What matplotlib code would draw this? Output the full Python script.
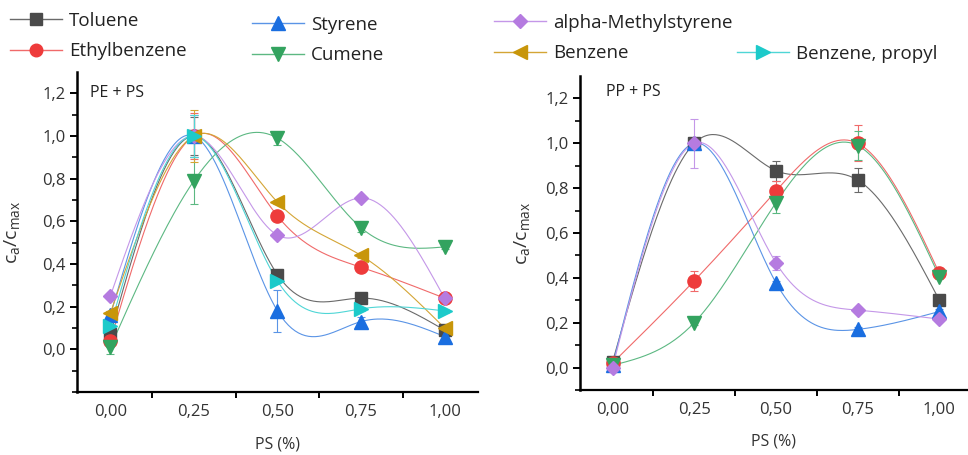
import numpy as np
import matplotlib
matplotlib.use('Agg')
import matplotlib.pyplot as plt
from matplotlib.lines import Line2D
from matplotlib.ticker import MultipleLocator, FixedLocator, FuncFormatter

plt.rcParams['font.family'] = ['Open Sans', 'DejaVu Sans']

ps = [0.0, 0.25, 0.50, 0.75, 1.00]

names = ['Toluene', 'Ethylbenzene', 'Styrene', 'Cumene',
         'alpha-Methylstyrene', 'Benzene', 'Benzene, propyl']

# PE + PS
pe_toluene = [0.07, 1.00, 0.35, 0.24, 0.09]
pe_ethylbenzene = [0.04, 1.00, 0.625, 0.385, 0.24]
pe_styrene = [0.16, 1.00, 0.18, 0.13, 0.06]
pe_cumene = [0.01, 0.79, 0.99, 0.57, 0.48]
pe_ams = [0.25, 1.00, 0.535, 0.71, 0.24]
pe_benzene = [0.17, 1.00, 0.69, 0.44, 0.10]
pe_propyl = [0.11, 1.00, 0.32, 0.19, 0.18]

pe_err_toluene = [0.01, 0.09, 0.02, 0.02, 0.01]
pe_err_ethylbenzene = [0.03, 0.11, 0.02, 0.02, 0.01]
pe_err_styrene = [0.02, 0.10, 0.10, 0.02, 0.01]
pe_err_cumene = [0.03, 0.11, 0.03, 0.02, 0.01]
pe_err_ams = [0.01, 0.10, 0.01, 0.01, 0.01]
pe_err_benzene = [0.01, 0.12, 0.01, 0.01, 0.01]
pe_err_propyl = [0.01, 0.10, 0.01, 0.01, 0.01]

# PP + PS
pp_toluene = [0.025, 1.00, 0.878, 0.836, 0.30]
pp_ethylbenzene = [0.02, 0.387, 0.787, 1.00, 0.42]
pp_styrene = [0.01, 1.00, 0.378, 0.17, 0.25]
pp_cumene = [0.01, 0.20, 0.735, 0.99, 0.405]
pp_ams = [0.0, 1.00, 0.467, 0.256, 0.216]

pp_err_toluene = [0.01, 0.02, 0.045, 0.055, 0.01]
pp_err_ethylbenzene = [0.01, 0.045, 0.045, 0.08, 0.01]
pp_err_styrene = [0.01, 0.02, 0.01, 0.01, 0.01]
pp_err_cumene = [0.01, 0.01, 0.045, 0.065, 0.01]
pp_err_ams = [0.01, 0.11, 0.03, 0.01, 0.01]

yticks = [0.0, 0.2, 0.4, 0.6, 0.8, 1.0, 1.2]
yminor = [-0.1, 0.1, 0.3, 0.5, 0.7, 0.9, 1.1]

markers = ['s', 'o', '^', 'v', 'D', '<', '>']
mcolors = ['#4a4a4a', '#ee3b3b', '#1a6ee0', '#33a35f', '#b57be0', '#c8960a', '#1ccaca']
lcolors = ['#6a6a6a', '#f06a6a', '#5a94e6', '#5cb882', '#c497e8', '#d4a535', '#4fd6d6']
msizes = [8.5, 9.5, 10, 10, 7.5, 10, 10]


def natural_spline(x, y, num=200):
    x = np.asarray(x, float)
    y = np.asarray(y, float)
    n = len(x)
    h = np.diff(x)
    A = np.zeros((n, n))
    r = np.zeros(n)
    A[0, 0] = A[-1, -1] = 1
    for i in range(1, n - 1):
        A[i, i - 1] = h[i - 1]
        A[i, i] = 2 * (h[i - 1] + h[i])
        A[i, i + 1] = h[i]
        r[i] = 6 * ((y[i + 1] - y[i]) / h[i] - (y[i] - y[i - 1]) / h[i - 1])
    M = np.linalg.solve(A, r)
    xs = np.linspace(x[0], x[-1], num)
    k = np.clip(np.searchsorted(x, xs) - 1, 0, n - 2)
    t0 = x[k + 1] - xs
    t1 = xs - x[k]
    hk = h[k]
    ys = (M[k] * t0 ** 3 / (6 * hk) + M[k + 1] * t1 ** 3 / (6 * hk)
          + (y[k] / hk - M[k] * hk / 6) * t0 + (y[k + 1] / hk - M[k + 1] * hk / 6) * t1)
    return xs, ys


def comma(v, nd):
    return f'{v:.{nd}f}'.replace('.', ',')


def draw(ax, series, errs, idx):
    for s, e, i in zip(series, errs, idx):
        xs, ys = natural_spline(ps, s)
        ax.plot(xs, ys, color=lcolors[i], lw=0.8, zorder=2)
        ax.errorbar(ps, s, yerr=e, fmt='none', ecolor=lcolors[i], elinewidth=0.8,
                    capsize=3, capthick=0.8, zorder=3)
    for s, i in zip(series, idx):
        ax.plot(ps, s, ls='none', marker=markers[i], ms=msizes[i],
                mfc=mcolors[i], mec=mcolors[i], zorder=4)


def style(ax, ylo, xhi, tag, tagx, tagy):
    ax.set_xlim(-0.1, xhi)
    ax.set_ylim(ylo, 1.3)
    for sp in ['top', 'right']:
        ax.spines[sp].set_visible(False)
    ax.spines['left'].set_linewidth(1.8)
    ax.spines['bottom'].set_linewidth(1.6)
    ax.xaxis.set_major_locator(MultipleLocator(0.25))
    ax.xaxis.set_minor_locator(MultipleLocator(0.125))
    ax.yaxis.set_major_locator(FixedLocator(yticks))
    ax.yaxis.set_minor_locator(FixedLocator(yminor + ([-0.2] if ylo < -0.15 else [])))
    ax.xaxis.set_major_formatter(FuncFormatter(lambda v, p: comma(v, 2)))
    ax.yaxis.set_major_formatter(FuncFormatter(lambda v, p: comma(v, 1)))
    ax.tick_params(axis='x', which='major', length=0, pad=9, labelsize=12, labelcolor='#333333')
    ax.tick_params(axis='x', which='minor', length=4, width=1.4, direction='out')
    ax.tick_params(axis='y', which='major', length=5, width=1.4, direction='out',
                   labelsize=12, labelcolor='#333333', pad=3)
    ax.tick_params(axis='y', which='minor', length=3.5, width=1.2, direction='out')
    ax.set_xlabel('PS (%)', fontsize=11.5, color='#333333', va='top')
    ax.set_ylabel(r'$\mathregular{c_a/c_{max}}$', fontsize=14, color='#333333')
    ax.text(tagx, tagy, tag, transform=ax.transAxes, fontsize=11.5, color='#222222',
            va='center', ha='left')


fig = plt.figure(figsize=(9.68, 4.55), dpi=100)
ax1 = fig.add_axes([0.0795, 0.1385, 0.4143, 0.7033])
ax2 = fig.add_axes([0.599, 0.1429, 0.401, 0.6901])

draw(ax1,
     [pe_toluene, pe_ethylbenzene, pe_styrene, pe_cumene, pe_ams, pe_benzene, pe_propyl],
     [pe_err_toluene, pe_err_ethylbenzene, pe_err_styrene, pe_err_cumene, pe_err_ams,
      pe_err_benzene, pe_err_propyl],
     range(7))
draw(ax2,
     [pp_toluene, pp_ethylbenzene, pp_styrene, pp_cumene, pp_ams],
     [pp_err_toluene, pp_err_ethylbenzene, pp_err_styrene, pp_err_cumene, pp_err_ams],
     range(5))

style(ax1, -0.2, 1.1, 'PE + PS', 0.032, 0.934)
style(ax2, -0.1, 1.0875, 'PP + PS', 0.067, 0.949)
ax1.yaxis.set_label_coords(-0.137, 0.5)
ax2.yaxis.set_label_coords(-0.124, 0.5)
ax1.xaxis.set_label_coords(0.5, -0.14)
ax2.xaxis.set_label_coords(0.5, -0.14)


def handle(i):
    return Line2D([], [], color=lcolors[i], lw=1.0, marker=markers[i], ms=msizes[i] * 0.95,
                  mfc=mcolors[i], mec=mcolors[i])


columns = [([0, 1], 10, 12), ([2, 3], 252, 16), ([4, 5], 494, 14), ([6], 737, 45)]
for ids, px, py in columns:
    fig.legend([handle(i) for i in ids], [names[i] for i in ids], loc='upper left',
               bbox_to_anchor=(px / 968, 1 - py / 455), frameon=False, borderpad=0,
               borderaxespad=0, fontsize=13.5, handlelength=2.75, handletextpad=0.4,
               labelspacing=0.65, labelcolor='#222222')

fig.savefig('out.png', dpi=100)
